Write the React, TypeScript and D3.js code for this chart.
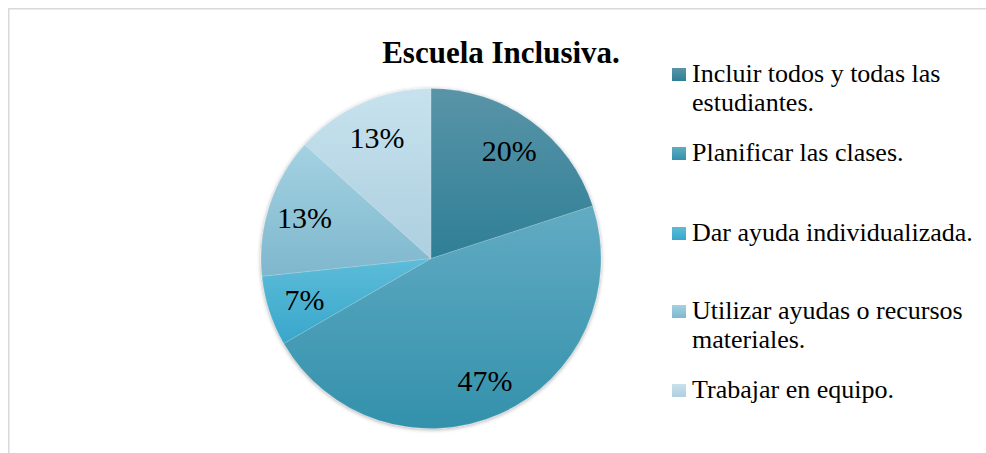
import React from "react";
import * as d3 from "d3";

const categories = [
  "Incluir todos y todas las estudiantes.",
  "Planificar las clases.",
  "Dar ayuda individualizada.",
  "Utilizar ayudas o recursos materiales.",
  "Trabajar en equipo.",
];
const counts = [3, 7, 1, 2, 2];
const percentLabels = ["20%", "47%", "7%", "13%", "13%"];
const legendLines = [
  ["Incluir todos y todas las", "estudiantes."],
  ["Planificar las clases."],
  ["Dar ayuda individualizada."],
  ["Utilizar ayudas o recursos", "materiales."],
  ["Trabajar en equipo."],
];
const gradTop = ["#5a94a8", "#62abc3", "#5dbcd8", "#a3d2e2", "#c7e2ee"];
const gradBottom = ["#2e7f96", "#3391ab", "#38a7cb", "#7fb7cd", "#adcfdf"];
const title = "Escuela Inclusiva.";

const W = 986;
const H = 453;
const cx = 431;
const cy = 258.5;
const R = 170;
const legendTopY = [68, 147, 227, 305, 384];

export default function App() {
  const pie = d3
    .pie<number>()
    .sort(null)
    .value((d) => d);
  const arcs = pie(counts);
  const arc = d3.arc<d3.PieArcDatum<number>>().innerRadius(0).outerRadius(R);
  const labelArc = d3
    .arc<d3.PieArcDatum<number>>()
    .innerRadius(133 * 2 - 0)
    .outerRadius(0);
  const font = "'Liberation Serif', 'Times New Roman', serif";

  return (
    <svg
      width={W}
      height={H}
      style={{ position: "absolute", left: 0, top: 0, background: "#fff" }}
    >
      <defs>
        {categories.map((_, i) => (
          <linearGradient key={i} id={`g${i}`} x1="0" y1="0" x2="0" y2="1">
            <stop offset="0%" stopColor={gradTop[i]} />
            <stop offset="100%" stopColor={gradBottom[i]} />
          </linearGradient>
        ))}
        <filter id="sh" x="-10%" y="-10%" width="120%" height="120%">
          <feGaussianBlur in="SourceAlpha" stdDeviation="2" />
          <feOffset dx="0" dy="1" result="b" />
          <feComponentTransfer>
            <feFuncA type="linear" slope="0.35" />
          </feComponentTransfer>
          <feMerge>
            <feMergeNode />
            <feMergeNode in="SourceGraphic" />
          </feMerge>
        </filter>
      </defs>
      <rect x={8.75} y={8.75} width={1200} height={1200} fill="#fff" stroke="#d9d9d9" strokeWidth={1.5} />
      <text
        x={501}
        y={63}
        textAnchor="middle"
        fontFamily={font}
        fontWeight="bold"
        fontSize={31}
        fill="#000"
      >
        {title}
      </text>
      <g transform={`translate(${cx},${cy})`} filter="url(#sh)">
        {arcs.map((a, i) => (
          <path
            key={i}
            d={arc(a) || ""}
            fill={`url(#g${i})`}
            stroke="rgba(255,255,255,0.25)"
            strokeWidth={0.6}
          />
        ))}
      </g>
      <g transform={`translate(${cx},${cy})`}>
        {arcs.map((a, i) => {
          const [x, y] = labelArc.centroid(a);
          return (
            <text
              key={i}
              x={x}
              y={y}
              textAnchor="middle"
              dominantBaseline="central"
              fontFamily={font}
              fontSize={30}
              fill="#000"
            >
              {percentLabels[i]}
            </text>
          );
        })}
      </g>
      <g>
        {legendLines.map((lines, i) => (
          <g key={i}>
            <rect x={672} y={legendTopY[i]} width={14} height={13} fill={`url(#g${i})`} />
            {lines.map((ln, j) => (
              <text
                key={j}
                x={692}
                y={legendTopY[i] + 14 + j * 29}
                fontFamily={font}
                fontSize={26}
                fill="#000"
              >
                {ln}
              </text>
            ))}
          </g>
        ))}
      </g>
    </svg>
  );
}
